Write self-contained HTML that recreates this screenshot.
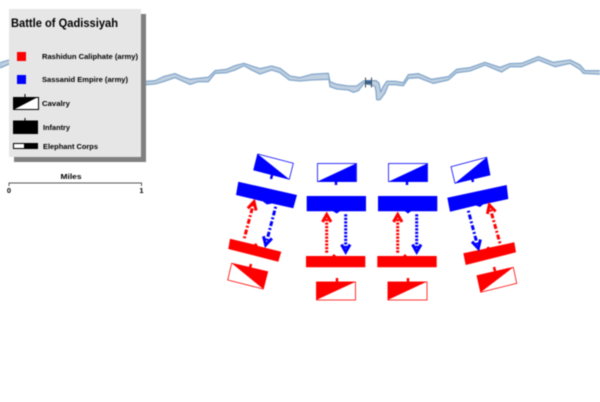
<!DOCTYPE html>
<html><head><meta charset="utf-8"><style>
html,body{margin:0;padding:0;background:#fff}
svg{display:block;filter:blur(.4px)}
text{font-family:"Liberation Sans",Arial,sans-serif;font-weight:bold;fill:#000}
</style></head><body>
<svg xmlns="http://www.w3.org/2000/svg" width="600" height="402" viewBox="0 0 600 402">
<rect width="600" height="402" fill="#fff"/>
<g transform="translate(140,50) scale(.33333)">
<polygon fill="#c0d0e0" stroke="#86a9cc" stroke-width="4" stroke-linejoin="round" points="-420,38 -393,30 18,94 45,92 70,80 105,71 125,80 150,88 175,85 205,82 225,62 260,58 285,47 312,40 335,48 360,56 395,48 420,55 450,78 480,83 515,73 565,70 570,95 590,103 625,108 650,108 670,93 695,92 708,92 717,99 722,126 730,109 740,94 765,94 790,98 805,74 835,71 875,88 925,80 950,58 990,53 1035,37 1080,52 1110,41 1145,40 1195,20 1240,37 1290,30 1320,45 1335,62 1385,62 1385,73 1330,70 1320,58 1290,40 1245,50 1195,30 1145,50 1110,50 1085,66 1035,45 990,63 950,68 925,90 880,100 835,83 805,85 790,107 765,104 745,104 735,129 720,149 710,149 708,124 705,109 690,104 672,100 655,122 640,127 625,120 590,117 570,110 567,88 515,90 480,93 448,90 420,68 395,60 360,72 335,60 312,47 285,60 260,68 225,70 205,95 175,95 150,103 125,92 105,83 70,95 45,102 18,104 -393,42 -420,54"/>
</g>
<rect x="366" y="80" width="5" height="4.500" fill="#3f78b5"/>
<path d="M365.500 77.500V87.500M371.500 77.500V87.500M365.500 82.500H371.500" stroke="#444" stroke-width="1" fill="none"/>

<rect x="14" y="14" width="132" height="148" fill="#808080"/>
<rect x="9" y="9" width="132" height="148" fill="#e6e6e6"/>
<text x="11" y="27" font-size="12" textLength="107" lengthAdjust="spacingAndGlyphs">Battle of Qadissiyah</text>
<rect x="17" y="52" width="9" height="9" fill="#f00"/>
<rect x="17" y="75" width="9" height="9" fill="#00f"/>
<text x="42" y="59" font-size="7.500" textLength="96" lengthAdjust="spacingAndGlyphs">Rashidun Caliphate (army)</text>
<text x="42" y="82" font-size="7.500" textLength="86" lengthAdjust="spacingAndGlyphs">Sassanid Empire (army)</text>
<text x="42" y="106" font-size="7.500" textLength="28" lengthAdjust="spacingAndGlyphs">Cavalry</text>
<text x="43" y="130" font-size="7.500" textLength="27" lengthAdjust="spacingAndGlyphs">Infantry</text>
<text x="43" y="149" font-size="7.500" textLength="55" lengthAdjust="spacingAndGlyphs">Elephant Corps</text>
<rect x="13.500" y="97.500" width="25" height="12" fill="#fff" stroke="#000"/>
<polygon points="13,97 38,97 13,110" fill="#000"/>
<path d="M25 94V98" stroke="#000"/>
<rect x="13" y="120.500" width="25" height="13.500" fill="#000"/>
<path d="M25 118V121" stroke="#000"/>
<rect x="13" y="143" width="25" height="6" fill="#000"/>
<rect x="13.500" y="143.500" width="11" height="5" fill="#fff" stroke="#000"/>

<text x="71" y="179" font-size="7.500" text-anchor="middle" textLength="21" lengthAdjust="spacingAndGlyphs">Miles</text>
<path d="M9 186V183H141.500V186" stroke="#555" stroke-width="1" fill="none"/>
<text x="9" y="193" font-size="7.500" text-anchor="middle">0</text>
<text x="141.500" y="193" font-size="7.500" text-anchor="middle">1</text>

<!-- Blue cavalry -->
<polygon points="257.700,154 293.300,163.300 289.300,179.300 253.700,170" fill="#fff" stroke="#00f" stroke-width=".8"/>
<polygon points="257.700,154 289.300,179.300 253.700,170" fill="#00f"/>
<path d="M272 175L271 179" stroke="#00f" stroke-width="2.500"/>
<rect x="317.500" y="163.500" width="39" height="18" fill="#fff" stroke="#00f" stroke-width=".8"/>
<polygon points="356,163.500 356,181.700 317,181.700" fill="#00f"/>
<path d="M336 181V185" stroke="#00f" stroke-width="2.500"/>
<rect x="388.500" y="163.500" width="39" height="18" fill="#fff" stroke="#00f" stroke-width=".8"/>
<polygon points="427.300,163.500 427.300,181.700 388.300,181.700" fill="#00f"/>
<path d="M407 181V185" stroke="#00f" stroke-width="2.500"/>
<polygon points="451,166.700 486.700,157.300 490,175 455,183.300" fill="#fff" stroke="#00f" stroke-width=".8"/>
<polygon points="486.700,157.300 490,175 455,183.300" fill="#00f"/>
<path d="M472 178L473 182" stroke="#00f" stroke-width="2.500"/>

<!-- Blue infantry -->
<polygon points="238.300,181.700 297,195 293.300,208.300 272,203.500 267,204.500 263,201.500 236,195" fill="#00f"/>
<polygon points="306.700,196 366,196 366,211.300 340,211.300 336.700,213.500 333,211.300 306.700,211.300" fill="#00f"/>
<polygon points="378,196 437.300,196 437.300,211.300 411,211.300 408,213.500 405,211.300 378,211.300" fill="#00f"/>
<polygon points="447.300,197.700 506.700,185 508.300,199 483,204.500 480,207 476,205.500 450,211.700" fill="#00f"/>

<!-- Red infantry -->
<polygon points="230,238.700 254,244.500 256,243 258,246 281.300,251.700 278.300,261.700 228.300,249" fill="#f00"/>
<polygon points="306,256 332,256 334,254 336,256 365.300,256 365.300,267.300 306,267.300" fill="#f00"/>
<polygon points="377.300,256 403,256 405,254 407,256 436.700,256 436.700,267.300 377.300,267.300" fill="#f00"/>
<polygon points="463.300,253.300 486,248.500 488,246.500 490,247.500 514.300,242.300 516,252.300 465.700,265" fill="#f00"/>

<!-- Red cavalry -->
<polygon points="231.700,263.300 267.700,271.700 263.300,289 227.700,280" fill="#fff" stroke="#f00" stroke-width=".8"/>
<polygon points="231.700,263.300 267.700,271.700 263.300,289" fill="#f00"/>
<path d="M250 268L251 264" stroke="#f00" stroke-width="2.500"/>
<rect x="316.500" y="282" width="39" height="18" fill="#fff" stroke="#f00" stroke-width=".8"/>
<polygon points="316.300,281.700 355.700,281.700 316.300,300" fill="#f00"/>
<path d="M337 282V278" stroke="#f00" stroke-width="2.500"/>
<rect x="388" y="282" width="39" height="18" fill="#fff" stroke="#f00" stroke-width=".8"/>
<polygon points="387.700,281.700 426.700,281.700 387.700,300" fill="#f00"/>
<path d="M408 282V278" stroke="#f00" stroke-width="2.500"/>
<polygon points="477,275.700 513.300,267.300 516.700,283.300 480.700,292.300" fill="#fff" stroke="#f00" stroke-width=".8"/>
<polygon points="477,275.700 513.300,267.300 480.700,292.300" fill="#f00"/>
<path d="M495 271L494 267" stroke="#f00" stroke-width="2.500"/>

<!-- Arrows -->
<g fill="none" stroke-width="3" stroke-linejoin="miter">
<g stroke="#f00">
<path d="M244.300 238.300L253.500 203.500" stroke-dasharray="2 2 5 2"/>
<path d="M247.800 208.300L254 201.700L256.100 210.500"/>
<path d="M326.700 252.700V216" stroke-dasharray="2.200 1.300"/>
<path d="M322.500 222L326.700 214.500L331 222"/>
<path d="M397.700 252.700V216" stroke-dasharray="2.200 1.300"/>
<path d="M393.500 222L397.700 214.500L402 222"/>
<path d="M500 243.300L489.800 207" stroke-dasharray="2 2 5 2"/>
<path d="M487.400 213.900L489.300 205L495.600 211.500"/>
</g>
<g stroke="#00f">
<path d="M275.700 206.700L266.200 243" stroke-dasharray="2 2 5 2"/>
<path d="M263.500 236.200L265.700 245L271.900 238.400"/>
<path d="M345.700 214.300V250" stroke-dasharray="2.200 1.300"/>
<path d="M341.500 244.500L345.700 252L350 244.500"/>
<path d="M416.700 214.300V250" stroke-dasharray="2.200 1.300"/>
<path d="M412.500 244.500L416.700 252L421 244.500"/>
<path d="M468.300 210.700L477.800 246.500" stroke-dasharray="2 2 5 2"/>
<path d="M472 241.700L478.300 248.300L480.400 239.500"/>
</g>
</g>
</svg>
</body></html>
